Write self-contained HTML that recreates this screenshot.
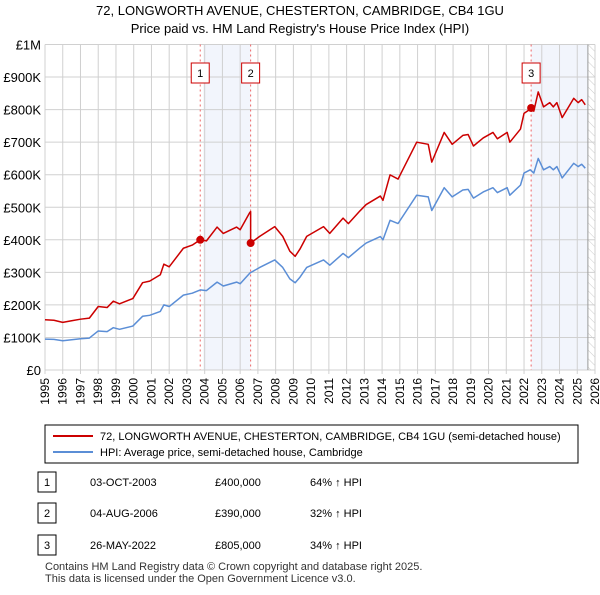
<!DOCTYPE html>
<html><head><meta charset="utf-8"><style>
body{margin:0;background:#fff;font-family:"Liberation Sans","DejaVu Sans",sans-serif;}
svg text{font-family:"Liberation Sans","DejaVu Sans",sans-serif;}
</style></head><body>
<svg id="c" width="600" height="590" xmlns="http://www.w3.org/2000/svg">
<defs><pattern id="hatch" width="6" height="6" patternUnits="userSpaceOnUse" patternTransform="rotate(-45)"><line x1="0" y1="0" x2="0" y2="6" stroke="#ccc" stroke-width="1"/></pattern></defs>
<text x="300" y="15" text-anchor="middle" font-size="13" fill="#000">72, LONGWORTH AVENUE, CHESTERTON, CAMBRIDGE, CB4 1GU</text>
<text x="300" y="33" text-anchor="middle" font-size="13" fill="#000">Price paid vs. HM Land Registry's House Price Index (HPI)</text>
<g id="plot"></g>
<rect x="45" y="425" width="533" height="38" fill="#fff" stroke="#000" stroke-width="1"/>
<line x1="53" y1="436" x2="93" y2="436" stroke="#cc0000" stroke-width="2"/>
<text x="100" y="440" font-size="11">72, LONGWORTH AVENUE, CHESTERTON, CAMBRIDGE, CB4 1GU (semi-detached house)</text>
<line x1="53" y1="452" x2="93" y2="452" stroke="#5b8ed6" stroke-width="2"/>
<text x="100" y="456" font-size="11">HPI: Average price, semi-detached house, Cambridge</text>
<g id="table" font-size="11"></g>
<text x="45" y="570" font-size="11" fill="#333">Contains HM Land Registry data © Crown copyright and database right 2025.</text>
<text x="45" y="582" font-size="11" fill="#333">This data is licensed under the Open Government Licence v3.0.</text>
</svg>
<script>
const yearTicks=[1995,1996,1997,1998,1999,2000,2001,2002,2003,2004,2005,2006,2007,2008,2009,2010,2011,2012,2013,2014,2015,2016,2017,2018,2019,2020,2021,2022,2023,2024,2025,2026];
const valueTicks=[0,100,200,300,400,500,600,700,800,900,1000];
const valueLabels=["£0","£100K","£200K","£300K","£400K","£500K","£600K","£700K","£800K","£900K","£1M"];
const hpiYears=[1995,1995.5,1996,1996.5,1997,1997.5,1998,1998.5,1998.85,1999.2,1999.95,2000.5,2000.9,2001.5,2001.7,2002,2002.8,2003.3,2003.75,2004.1,2004.7,2005.05,2005.8,2006,2006.55,2007.1,2007.95,2008.4,2008.8,2009.1,2009.37,2009.75,2010.7,2011.05,2011.8,2012.1,2012.75,2013.1,2013.9,2014.05,2014.45,2014.9,2015.95,2016.6,2016.8,2017.05,2017.5,2017.95,2018.55,2018.85,2019.15,2019.7,2020.25,2020.5,2021.05,2021.2,2021.8,2022.0,2022.35,2022.55,2022.8,2023.1,2023.45,2023.65,2023.85,2024.15,2024.8,2025.05,2025.25,2025.45];
const hpiValues=[95,94,90,93,96,98,120,118,130,125,135,165,168,180,200,195,230,236,246,244,270,258,270,265,298,315,338,315,280,268,285,315,338,322,358,345,375,390,410,400,460,450,537,532,490,515,560,532,553,555,528,547,560,545,560,537,568,605,615,605,650,615,625,615,625,590,635,625,632,620];
const saleLabels=["1","2","3"];
const saleYears=[2003.75,2006.59,2022.4];
const salePrices=[400,390,805];
const saleDates=["03-OCT-2003","04-AUG-2006","26-MAY-2022"];
const salePriceText=["£400,000","£390,000","£805,000"];
const saleHpiText=["64% ↑ HPI","32% ↑ HPI","34% ↑ HPI"];

const L=45,R=595,T=44.5,B=370,X0=1995,X1=2026;
const xs=y=>L+(y-X0)/(X1-X0)*(R-L);
const ys=v=>B-v/1000*(B-T);
const NS="http://www.w3.org/2000/svg";
const plot=document.getElementById('plot');
function mk(tag,at,parent){const e=document.createElementNS(NS,tag);for(const k in at)e.setAttribute(k,at[k]);(parent||plot).appendChild(e);return e;}
function hpiAt(y){for(let i=1;i<hpiYears.length;i++){if(y<=hpiYears[i]){const t=(y-hpiYears[i-1])/(hpiYears[i]-hpiYears[i-1]);return hpiValues[i-1]+t*(hpiValues[i]-hpiValues[i-1]);}}return hpiValues[hpiValues.length-1];}

let sh1=mk('rect',{x:xs(saleYears[0])+3,y:T,width:xs(saleYears[1])-xs(saleYears[0])-3,height:B-T,fill:'#f2f5fc'});


let sh2=mk('rect',{x:xs(saleYears[2]),y:T,width:xs(2025.6)-xs(saleYears[2]),height:B-T,fill:'#f2f5fc'});


let hz=mk('rect',{x:xs(2025.6),y:T,width:R-xs(2025.6),height:B-T,fill:'url(#hatch)'});



yearTicks.forEach(yr=>{
  let g=mk('line',{x1:xs(yr),x2:xs(yr),y1:T,y2:B+4,stroke:'#d0d0d0','stroke-width':1});
  
  
  let t=mk('text',{x:0,y:0,'font-size':12,'text-anchor':'end',transform:`translate(${xs(yr)+4},${B+8}) rotate(-90)`});
  t.textContent=yr;
  
  
});
valueTicks.forEach((v,i)=>{
  let g=mk('line',{x1:L,x2:R,y1:ys(v),y2:ys(v),stroke:'#d0d0d0','stroke-width':1});
  
  
  let t=mk('text',{x:L-4,y:ys(v)+5,'font-size':13,'text-anchor':'end'});
  t.textContent=valueLabels[i];
  
  
});
let ed=mk('line',{x1:xs(2025.6),x2:xs(2025.6),y1:T,y2:B,stroke:'#999','stroke-width':1});



saleYears.forEach((sy,i)=>{
  let l=mk('line',{x1:xs(sy),x2:xs(sy),y1:T,y2:B,stroke:'#e66','stroke-width':1,'stroke-dasharray':'2,3'});
  
  
  let b=mk('rect',{x:xs(sy)-9,y:63,width:18,height:20,fill:'#fff',stroke:'#cc0000','stroke-width':1});
  
  
  let t=mk('text',{x:xs(sy),y:77,'font-size':11,'text-anchor':'middle'});
  t.textContent=saleLabels[i];
  
  
});

let hp=mk('polyline',{points:hpiYears.map((y,i)=>xs(y)+','+ys(hpiValues[i])).join(' '),fill:'none',stroke:'#5b8ed6','stroke-width':1.5,'stroke-linejoin':'round'});



function ratioAt(y){let k=0;for(let i=0;i<saleYears.length;i++)if(y>=saleYears[i])k=i;return salePrices[k]/hpiAt(saleYears[k]);}
let pts=[];
let allY=hpiYears.concat(saleYears).sort((a,b)=>a-b);
allY.forEach(y=>{
  saleYears.forEach((sy,i)=>{if(Math.abs(y-sy)<1e-9&&i>0){pts.push(xs(y)+','+ys(hpiAt(y)*salePrices[i-1]/hpiAt(saleYears[i-1])));}});
  pts.push(xs(y)+','+ys(hpiAt(y)*ratioAt(y)));
});
let pl=mk('polyline',{points:pts.join(' '),fill:'none',stroke:'#cc0000','stroke-width':1.5,'stroke-linejoin':'round'});


saleYears.forEach((sy,i)=>{
  let c=mk('circle',{cx:xs(sy),cy:ys(salePrices[i]),r:4,fill:'#cc0000'});
  
  
});

const tb=document.getElementById('table');
const rowY=[486,517,549];
saleLabels.forEach((s,i)=>{
  let b=mk('rect',{x:38,y:rowY[i]-14,width:18,height:20,fill:'#fff',stroke:'#000','stroke-width':1},tb);
  
  
  let cols=[[47,s,'middle'],[90,saleDates[i],'start'],[215,salePriceText[i],'start'],[310,saleHpiText[i],'start']];
  cols.forEach((c,j)=>{
    let t=mk('text',{x:c[0],y:rowY[i],'text-anchor':c[2]},tb);
    t.textContent=c[1];
    
    
  });
});
</script>
</body></html>
